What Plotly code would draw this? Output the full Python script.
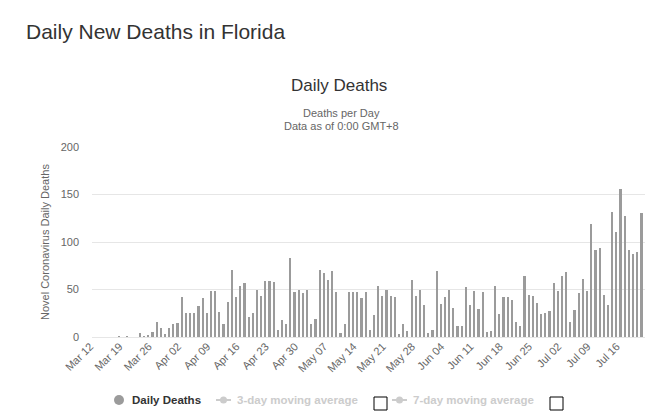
import pandas as pd
import plotly.graph_objects as go

start_date = "2020-03-12"
daily_deaths = [
    0, 0, 0, 0, 0, 0, 1, 0, 1, 0, 0, 4, 1, 2, 5, 16, 9, 3, 10, 14, 15,
    42, 25, 25, 25, 33, 41, 25, 48, 48, 26, 14, 37, 71, 42, 54, 57, 21, 25,
    49, 43, 59, 59, 58, 7, 18, 14, 83, 47, 50, 46, 50, 14, 19, 71, 67, 60,
    69, 47, 4, 14, 47, 47, 47, 41, 47, 7, 23, 54, 43, 49, 43, 42, 3, 14, 6,
    60, 43, 49, 34, 4, 7, 70, 35, 42, 49, 31, 12, 12, 53, 34, 48, 30, 47, 5,
    6, 54, 24, 42, 42, 39, 16, 12, 64, 44, 43, 36, 24, 25, 27, 57, 48, 64,
    68, 16, 28, 46, 61, 48, 119, 92, 94, 44, 34, 132, 111, 156, 127, 92, 87,
    89, 131,
]
dates = pd.date_range(start_date, periods=len(daily_deaths), freq="D")
y_ticks = [0, 50, 100, 150, 200]

DAY_MS = 86400000
fig = go.Figure()
fig.add_trace(go.Bar(
    x=dates, y=daily_deaths, name="Daily Deaths",
    marker=dict(color="#9b9b9b", line=dict(width=0)),
    width=0.4 * DAY_MS, showlegend=False,
))

x0 = dates[0] - pd.Timedelta(hours=12.7)
x1 = dates[-1] + pd.Timedelta(hours=19)

fig.update_layout(
    width=653, height=419, autosize=False,
    margin=dict(l=92, r=8, t=147, b=82),
    paper_bgcolor="white", plot_bgcolor="white",
    font=dict(family="Liberation Sans, Arial, sans-serif", color="#666666", size=11),
    bargap=0,
    xaxis=dict(
        type="date", range=[x0, x1],
        tick0=dates[0], dtick=7 * DAY_MS, tickformat="%b %d",
        tickangle=-45, showgrid=False, zeroline=False,
        showline=False, ticks="", tickfont=dict(size=11, color="#666666"),
        ticklabelshift=-4,
    ),
    yaxis=dict(
        range=[0, 200], tickvals=y_ticks, showgrid=True, gridcolor="#e6e6e6",
        zeroline=True, zerolinecolor="#e6e6e6", zerolinewidth=1,
        tickfont=dict(size=11, color="#666666"), ticklabelstandoff=12,
    ),
)

H = 190.0
W = 553.0
def py(pix):
    return (337 - pix) / H
def px(pix):
    return (pix - 92) / W

ann = [
    dict(text="Daily New Deaths in Florida", x=px(24), y=py(31), xanchor="left", yanchor="middle",
         font=dict(size=21, color="#333333", family="Liberation Sans, Arial, sans-serif")),
    dict(text="Daily Deaths", x=px(339), y=py(86), xanchor="center", yanchor="middle",
         font=dict(size=17, color="#333333")),
    dict(text="Deaths per Day", x=px(341), y=py(113), xanchor="center", yanchor="middle",
         font=dict(size=11, color="#666666")),
    dict(text="Data as of 0:00 GMT+8", x=px(341), y=py(126), xanchor="center", yanchor="middle",
         font=dict(size=11, color="#666666")),
    dict(text="Novel Coronavirus Daily Deaths", x=px(45), y=py(242), textangle=-90,
         xanchor="center", yanchor="middle", font=dict(size=11, color="#666666")),
    dict(text="<b>Daily Deaths</b>", x=px(130), y=py(400), xanchor="left", yanchor="middle",
         font=dict(size=11.5, color="#333333")),
    dict(text="<b>3-day moving average</b>", x=px(235), y=py(400), xanchor="left", yanchor="middle",
         font=dict(size=11.5, color="#cccccc")),
    dict(text="<b>7-day moving average</b>", x=px(411), y=py(400), xanchor="left", yanchor="middle",
         font=dict(size=11.5, color="#cccccc")),
]
for a in ann:
    a.update(xref="paper", yref="paper", showarrow=False)
fig.update_layout(annotations=ann)

shapes = [
    dict(type="circle", x0=px(114), x1=px(124), y0=py(405), y1=py(395),
         fillcolor="#9b9b9b", line=dict(width=0)),
    dict(type="line", x0=px(216), x1=px(231), y0=py(400), y1=py(400), line=dict(color="#cccccc", width=2)),
    dict(type="circle", x0=px(220), x1=px(227), y0=py(403.5), y1=py(396.5), fillcolor="#cccccc", line=dict(width=0)),
    dict(type="line", x0=px(392), x1=px(407), y0=py(400), y1=py(400), line=dict(color="#cccccc", width=2)),
    dict(type="circle", x0=px(396), x1=px(403), y0=py(403.5), y1=py(396.5), fillcolor="#cccccc", line=dict(width=0)),
    dict(type="rect", x0=px(374), x1=px(387), y0=py(410), y1=py(397), fillcolor="white", line=dict(color="#000000", width=1)),
    dict(type="rect", x0=px(550), x1=px(563), y0=py(410), y1=py(397), fillcolor="white", line=dict(color="#000000", width=1)),
]
for s in shapes:
    s.update(xref="paper", yref="paper")
fig.update_layout(shapes=shapes)

fig.write_html("out.html")
